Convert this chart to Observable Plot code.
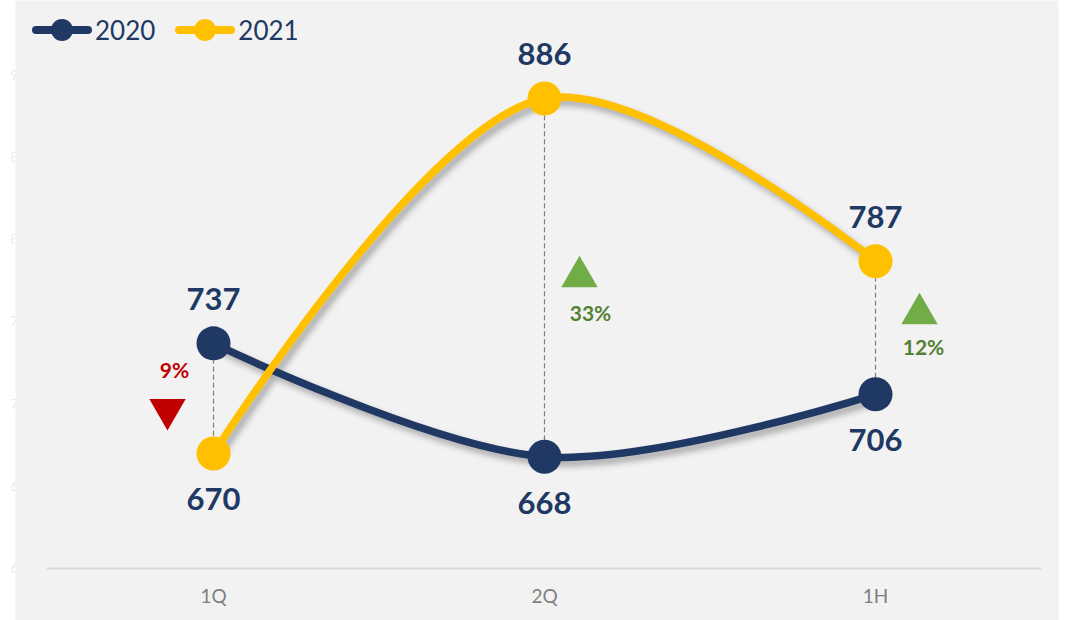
<!DOCTYPE html>
<html><head><meta charset="utf-8">
<script src="https://cdn.jsdelivr.net/npm/d3@7"></script>
<script src="https://cdn.jsdelivr.net/npm/@observablehq/plot@0.6"></script>
<style>
body{margin:0;background:#fff;}
#wrap{position:relative;width:1071px;height:620px;font-family:Lato,sans-serif;}
#legend{position:absolute;left:32px;top:15px;display:flex;align-items:center;font-size:26px;color:#203864;}
.item{display:flex;align-items:center;margin-right:20px;}
.item span{margin-left:3px;line-height:30px;}
</style></head><body>
<div id="wrap"><div id="legend"></div></div>
<script>
const categories = ["1Q", "2Q", "1H"];
const series = ["2020", "2021"];
const values2020 = [737, 668, 706];
const values2021 = [670, 886, 787];
const changeLabels = ["9%", "33%", "12%"];
const yTicks = [600, 650, 700, 750, 800, 850, 900];
const seriesColors = ["#203864", "#ffc000"];

const rows = series.flatMap((s, si) => categories.map((c, i) => {
  const v = si === 0 ? values2020[i] : values2021[i];
  const other = si === 0 ? values2021[i] : values2020[i];
  return {series: s, cat: c, value: v, above: v > other};
}));
const pairs = categories.map((c, i) => ({
  cat: c, a: values2020[i], b: values2021[i],
  mid: (values2020[i] + values2021[i]) / 2,
  pct: changeLabels[i], up: values2021[i] > values2020[i]
}));

// per-arrow offsets (styling)
const arrowOffsets = {
  "1Q": {tdx: -46, tdy: 11, ldx: -39, ldy: -27},
  "2Q": {tdx: 35, tdy: -1, ldx: 46, ldy: 37},
  "1H": {tdx: 44, tdy: -14, ldx: 48, ldy: 21}
};
const arrowMarks = pairs.flatMap(p => {
  const o = arrowOffsets[p.cat];
  const col = p.up ? "#70ad47" : "#c00000";
  const txt = p.up ? "#548235" : "#c00000";
  return [
    Plot.dot([p], {x: "cat", y: "mid", symbol: "triangle", r: 13.5, rotate: p.up ? 0 : 180, fill: col, dx: o.tdx, dy: o.tdy}),
    Plot.text([p], {x: "cat", y: "mid", text: "pct", dx: o.ldx, dy: o.ldy, fill: txt, fontSize: 21, fontWeight: "bold"})
  ];
});

const plot = Plot.plot({
  width: 1071, height: 620,
  marginLeft: 47, marginRight: 30, marginTop: 75, marginBottom: 52,
  style: {background: "transparent", fontFamily: "Lato, sans-serif", overflow: "visible"},
  x: {type: "point", domain: categories, padding: 0.5},
  y: {domain: [600, 900]},
  color: {domain: series, range: seriesColors},
  marks: [
    Plot.axisY({ticks: yTicks, tickSize: 0, tickPadding: 13, fontSize: 14, fill: "#ececec", label: null}),
    Plot.frame({fill: "#f2f2f2", stroke: "none", insetLeft: -32, insetRight: -17, insetTop: -75, insetBottom: -52}),
    Plot.ruleY([600], {stroke: "#d9d9d9", strokeWidth: 2}),
    Plot.axisX({tickSize: 0, tickPadding: 21, fontSize: 19, fill: "#7f7f7f", label: null}),
    Plot.ruleX(pairs, {x: "cat", y1: "a", y2: "b", stroke: "#808080", strokeDasharray: "5,3", strokeWidth: 1.2}),
    Plot.line(rows, {x: "cat", y: "value", z: "series", stroke: "series", strokeWidth: 7.5, curve: "catmull-rom", strokeLinecap: "round"}),
    Plot.dot(rows, {x: "cat", y: "value", fill: "series", r: 17}),
    Plot.text(rows.filter(d => d.above), {x: "cat", y: "value", text: "value", dy: -43, fill: "#203864", fontSize: 31, fontWeight: "bold"}),
    Plot.text(rows.filter(d => !d.above), {x: "cat", y: "value", text: "value", dy: 47, fill: "#203864", fontSize: 31, fontWeight: "bold"}),
    ...arrowMarks
  ]
});
d3.select(plot).selectAll('g[aria-label="line"]').style("filter", "drop-shadow(4px 5px 3px rgba(0,0,0,0.3))");
const wrap = document.getElementById("wrap");
wrap.insertBefore(plot, wrap.firstChild);

const legend = d3.select("#legend");
series.forEach((s, i) => {
  const item = legend.append("div").attr("class", "item");
  const sw = item.append("svg").attr("width", 60).attr("height", 24);
  sw.append("line").attr("x1", 4).attr("x2", 56).attr("y1", 12).attr("y2", 12)
    .attr("stroke", seriesColors[i]).attr("stroke-width", 8).attr("stroke-linecap", "round");
  sw.append("circle").attr("cx", 30).attr("cy", 12).attr("r", 11).attr("fill", seriesColors[i]);
  item.append("span").text(s);
});
</script>
</body></html>
